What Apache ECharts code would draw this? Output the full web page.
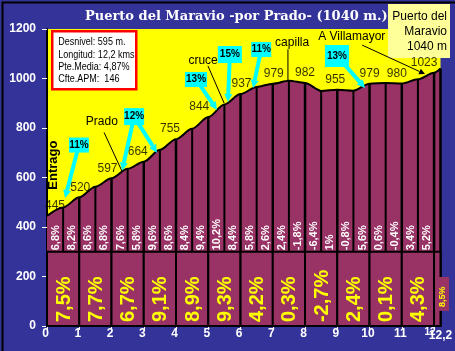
<!DOCTYPE html>
<html>
<head>
<meta charset="utf-8">
<script src="https://cdn.jsdelivr.net/npm/echarts@6/dist/echarts.min.js"></script>
<style>
  html, body { margin: 0; padding: 0; background: #333399; }
  #chart { width: 455px; height: 351px; }
</style>
</head>
<body>
<div id="chart"></div>
<script>
// perfil: km y altitud cada 500 m
const kms = [0, 0.5, 1, 1.5, 2, 2.5, 3, 3.5, 4, 4.5, 5, 5.5, 6, 6.5, 7, 7.5, 8, 8.5, 9, 9.5, 10, 10.5, 11, 11.5, 12, 12.2];
const altitudes = [445, 479, 520, 563, 597, 635, 664, 712, 755, 797, 844, 895, 937, 966, 979, 991, 982, 950, 955, 951, 979, 982, 980, 997, 1023, 1040];
// pendiente de cada medio km
const pendientesMedio = ["6,8%", "8,2%", "8,6%", "6,8%", "7,6%", "5,8%", "9,6%", "8,6%", "8,4%", "9,4%", "10,2%", "8,4%",
  "5,8%", "2,6%", "2,4%", "-1,8%", "-6,4%", "1%", "-0,8%", "5,6%", "0,6%", "-0,4%", "3,4%", "5,2%"];
// tramos de km y su pendiente media
const tramosKm = [[0, 1], [1, 2], [2, 3], [3, 4], [4, 5], [5, 6], [6, 7], [7, 8], [8, 9], [9, 10], [10, 11], [11, 12], [12, 12.2]];
const pendientesKm = ["7,5%", "7,7%", "6,7%", "9,1%", "8,9%", "9,3%", "4,2%", "0,3%", "-2,7%", "2,4%", "0,1%", "4,3%", "8,5%"];
// ejes
const yTicks = { min: 0, max: 1200, step: 200 };
const xTicks = { min: 0, max: 12.2, step: 1 };
const infoLineas = ["Desnivel: 595 m.", "Longitud: 12,2 kms", "Pte.Media: 4,87%", "Cfte.APM:  146"];

const SANS = '"Liberation Sans", Arial, sans-serif';
const GRANATE = "#993366";
const CIAN = "#00ffff";

// rotulos con flecha (cajas cian)
const callouts = [
  { text: "11%", box: [0.99, 731], w: 20, h: 15, tips: [[0.56, 517]] },
  { text: "12%", box: [2.70, 846], w: 20, h: 17, tips: [[2.33, 628], [3.41, 700]] },
  { text: "13%", box: [4.62, 996], w: 22, h: 15, tips: [[5.27, 873]] },
  { text: "15%", box: [5.67, 1097], w: 24, h: 17, tips: [[5.61, 905]] },
  { text: "11%", box: [6.64, 1117], w: 20, h: 15, tips: [[6.39, 962]] },
  { text: "13%", box: [8.99, 1091], w: 24, h: 22, tips: [[9.86, 962]] },
];
// notas de texto con linea guia
const notas = [
  { text: "Prado", pos: [1.70, 824], line: [[1.77, 782], [2.33, 624]] },
  { text: "cruce", pos: [4.84, 1071], line: [[4.99, 1051], [5.49, 901]] },
  { text: "capilla", pos: [7.60, 1143], line: [[7.47, 1118], [7.47, 992]] },
  { text: "A Villamayor", pos: [9.45, 1168], line: [[9.77, 1135], [11.72, 1018]], head: true },
  { text: "Entrago", pos: [0.19, 650], rotate: true },
];
// ajuste horizontal de las cotas
const cotaDx = [8, 1, -4, -6, -6, -9, 1, 1, 0, -2, 0, -5, -10];

function flecha(from, to, color, width, head) {
  const dx = to[0] - from[0], dy = to[1] - from[1];
  const len = Math.hypot(dx, dy) || 1;
  const ux = dx / len, uy = dy / len;
  const bx = to[0] - ux * head, by = to[1] - uy * head;
  const nx = -uy * head * 0.5, ny = ux * head * 0.5;
  return [
    { type: "line", shape: { x1: from[0], y1: from[1], x2: bx, y2: by }, style: { stroke: color, lineWidth: width } },
    { type: "polygon", shape: { points: [[to[0], to[1]], [bx + nx, by + ny], [bx - nx, by - ny]] }, style: { fill: color } },
  ];
}

const perfil = kms.map((k, i) => [k, altitudes[i]]);
const cotasIdx = kms.map((k, i) => i).filter((i) => Number.isInteger(kms[i]));

const chart = echarts.init(document.getElementById("chart"));
const option = {
  backgroundColor: "#333399",
  animation: false,
  grid: { left: 47, right: 14.5, top: 29, bottom: 25, show: true, backgroundColor: "#ffff00", borderWidth: 0 },
  xAxis: {
    type: "value", min: xTicks.min, max: xTicks.max, interval: xTicks.step,
    axisLine: { lineStyle: { color: "#000", width: 2 } },
    axisTick: { show: true, length: 4, lineStyle: { color: "#fff" } },
    splitLine: { show: false },
    axisLabel: {
      showMaxLabel: false, margin: 1, color: "#fff", fontFamily: SANS, fontWeight: "bold", fontSize: 12,
      formatter: (v) => (v === 12 ? "{s|12}" : v > 12 ? "" : "{n|" + v + "}"),
      rich: {
        n: { color: "#fff", fontWeight: "bold", fontSize: 12, fontFamily: SANS, padding: [1, 3, 0, 0] },
        s: { color: "#fff", fontWeight: "bold", fontSize: 10, fontFamily: SANS, padding: [0, 8, 0, 0] },
      },
    },
  },
  yAxis: {
    type: "value", min: yTicks.min, max: yTicks.max, interval: yTicks.step,
    axisLine: { show: true, lineStyle: { color: "#000", width: 2 } },
    axisTick: { show: true, length: 5, lineStyle: { color: "#fff" } },
    splitLine: { show: false },
    axisLabel: { margin: 11, color: "#fff", fontFamily: SANS, fontWeight: "bold", fontSize: 12, formatter: (v) => String(v) },
  },
  series: [
    {
      // perfil relleno
      type: "line", data: perfil, symbol: "none", smooth: 0.3, smoothMonotone: "x", z: 2,
      lineStyle: { color: "#000", width: 2 },
      areaStyle: { color: GRANATE, opacity: 1 },
    },
    {
      // lineas verticales cada medio km
      type: "custom", z: 3, data: perfil.slice(1),
      renderItem: (params, api) => {
        const k = api.value(0);
        const esKm = Number.isInteger(k) || k > 12;
        const p0 = api.coord([k, esKm ? 0 : 300]);
        const p1 = api.coord([k, api.value(1)]);
        return {
          type: "line", shape: { x1: p0[0], y1: p0[1], x2: p1[0], y2: p1[1] },
          style: { stroke: "#000", lineWidth: esKm ? 2.5 : 2 },
        };
      },
    },
    {
      // celdas de cada km con su pendiente
      type: "custom", z: 4, data: tramosKm,
      renderItem: (params, api) => {
        const i = params.dataIndex;
        const a = api.value(0), b = api.value(1);
        const p0 = api.coord([a, 300]);
        const p1 = api.coord([b, 0]);
        const w = p1[0] - p0[0];
        const kids = [{
          type: "rect", shape: { x: p0[0], y: p0[1], width: w, height: p1[1] - p0[1] },
          style: { fill: GRANATE, stroke: "#000", lineWidth: 2 },
        }];
        if (w > 20) {
          const base = api.coord([(a + b) / 2, 16]);
          kids.push({
            type: "text", x: base[0] + 1, y: base[1], rotation: Math.PI / 2,
            style: { text: pendientesKm[i], fill: "#ffff00", font: "bold 20px " + SANS, align: "left", verticalAlign: "middle" },
          });
        } else {
          const top = api.coord([a, 198]);
          const bot = api.coord([a, 61]);
          kids.push({
            type: "rect", shape: { x: p0[0] + 1, y: top[1], width: 14, height: bot[1] - top[1] },
            style: { fill: GRANATE },
          });
          kids.push({
            type: "text", x: p0[0] + 8, y: bot[1] - 4, rotation: Math.PI / 2,
            style: { text: pendientesKm[i], fill: "#ffff00", font: "bold 9px " + SANS, align: "left", verticalAlign: "middle" },
          });
          // rotulo del km final bajo el eje
          const fin = api.coord([b, 0]);
          kids.push({
            type: "text", x: fin[0], y: fin[1] + 4,
            style: { text: "12,2", fill: "#fff", font: "bold 12px " + SANS, align: "center", verticalAlign: "top" },
          });
        }
        return { type: "group", children: kids };
      },
    },
    {
      // pendientes de medio km
      type: "custom", z: 5, data: pendientesMedio.map((g, i) => [(kms[i] + kms[i + 1]) / 2]),
      renderItem: (params, api) => {
        const p = api.coord([api.value(0), 306]);
        return {
          type: "text", x: p[0] + 1, y: p[1], rotation: Math.PI / 2,
          style: { text: pendientesMedio[params.dataIndex], fill: "#fff", font: "bold 11px " + SANS, align: "left", verticalAlign: "middle" },
        };
      },
    },
    {
      // cotas
      type: "scatter", z: 6, symbolSize: 0,
      data: cotasIdx.map((i, n) => ({
        value: [kms[i], altitudes[i]],
        label: { offset: [cotaDx[n], 0] },
      })),
      label: {
        show: true, position: "top", distance: 4, color: "#000", fontFamily: SANS, fontSize: 12,
        formatter: (p) => String(p.value[1]),
      },
    },
    {
      // notas de texto
      type: "custom", z: 7, data: notas.map((n) => n.pos),
      renderItem: (params, api) => {
        const n = notas[params.dataIndex];
        const p = api.coord(n.pos);
        const kids = [];
        if (n.line) {
          const a = api.coord(n.line[0]);
          const b = api.coord(n.line[1]);
          if (n.head) {
            flecha(a, b, "#000", 1, 6).forEach((e) => kids.push(e));
          } else {
            kids.push({ type: "line", shape: { x1: a[0], y1: a[1], x2: b[0], y2: b[1] }, style: { stroke: "#000", lineWidth: 1 } });
          }
        }
        kids.push({
          type: "text", x: p[0], y: p[1], rotation: n.rotate ? Math.PI / 2 : 0,
          style: {
            text: n.text, fill: "#000", font: (n.rotate ? "bold 13px " : "12px ") + SANS,
            align: "center", verticalAlign: "middle",
          },
        });
        return { type: "group", children: kids };
      },
    },
    {
      // cajas cian con flecha
      type: "custom", z: 8, data: callouts.map((c) => c.box),
      renderItem: (params, api) => {
        const c = callouts[params.dataIndex];
        const p = api.coord(c.box);
        const kids = [];
        c.tips.forEach((t) => {
          flecha(p, api.coord(t), CIAN, 4, 8).forEach((e) => kids.push(e));
        });
        kids.push({
          type: "rect", shape: { x: p[0] - c.w / 2, y: p[1] - c.h / 2, width: c.w, height: c.h },
          style: { fill: CIAN },
        });
        kids.push({
          type: "text", x: p[0], y: p[1],
          style: { text: c.text, fill: "#000", font: "bold 10px " + SANS, align: "center", verticalAlign: "middle" },
        });
        return { type: "group", children: kids };
      },
    },
  ],
  graphic: [
    {
      type: "text", left: 85, top: 10, z: 20,
      style: {
        text: "Puerto del Maravio -por Prado- (1040 m.)", fill: "#fff", font: "bold 13px 'DejaVu Serif', serif",
        textShadowColor: "#000", textShadowOffsetX: 1, textShadowOffsetY: 1, textShadowBlur: 0,
      },
    },
    {
      type: "group", left: 51, top: 30, z: 20,
      children: [
        { type: "rect", shape: { x: 0, y: 0, width: 84, height: 58 }, style: { fill: "#fff", stroke: "#ff0000", lineWidth: 2.5 } },
      ].concat(infoLineas.map((t, i) => ({
        type: "text", x: 6, y: 11 + i * 12.3, scaleX: 0.82,
        style: { text: t, fill: "#000", font: "11px " + SANS, verticalAlign: "middle" },
      }))),
    },
    {
      type: "group", left: 264, top: 173, z: 20,
      children: [
        { type: "rect", shape: { x: 0, y: 0, width: 84, height: 24 }, style: { fill: "#000", stroke: "#800080", lineWidth: 1 } },
        { type: "text", x: 42, y: 12, style: { text: "MONTERO79", fill: "#ffcc00", font: "italic bold 12px " + SANS, align: "center", verticalAlign: "middle" } },
      ],
    },
    {
      type: "group", left: 388, top: 4, z: 20,
      children: [
        { type: "rect", shape: { x: 0, y: 0, width: 62, height: 54 }, style: { fill: "#ffff99" } },
        { type: "text", x: 59, y: 13, style: { text: "Puerto del", fill: "#000", font: "12px " + SANS, align: "right", verticalAlign: "middle" } },
        { type: "text", x: 59, y: 28, style: { text: "Maravio", fill: "#000", font: "12px " + SANS, align: "right", verticalAlign: "middle" } },
        { type: "text", x: 59, y: 43, style: { text: "1040 m", fill: "#000", font: "12px " + SANS, align: "right", verticalAlign: "middle" } },
      ],
    },
    {
      type: "rect", left: 0, top: 0, z: 30, silent: true,
      shape: { x: 0, y: 0, width: 454, height: 350 },
      style: { fill: null, stroke: "#000", lineWidth: 2 },
    },
  ],
};
chart.setOption(option);
</script>
</body>
</html>
